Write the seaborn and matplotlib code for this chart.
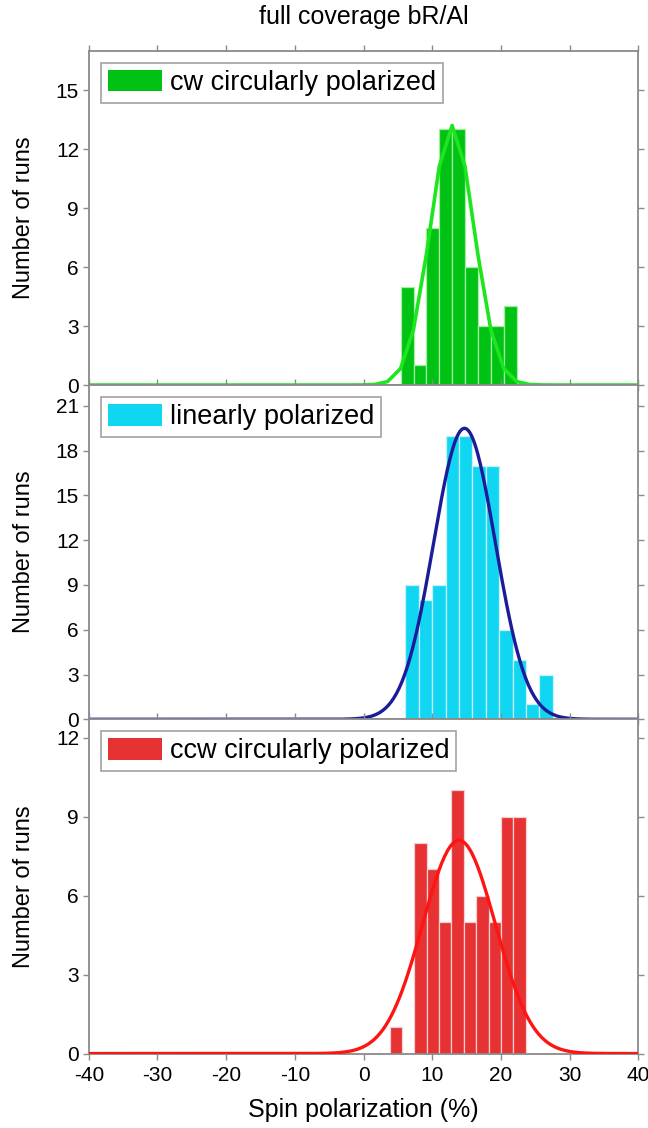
import numpy as np
import pandas as pd
import matplotlib
matplotlib.use("Agg")
import matplotlib.pyplot as plt
from matplotlib.patches import Patch
import seaborn as sns

# ---------------- data ----------------
title = "full coverage bR/Al"
x_label = "Spin polarization (%)"
y_label = "Number of runs"
x_ticks = [-40, -30, -20, -10, 0, 10, 20, 30, 40]

# cw circularly polarized
cw_label = "cw circularly polarized"
cw_bin_start = 5.4
cw_bin_width = 1.88
cw_counts = [5, 1, 8, 13, 13, 6, 3, 3, 4]
cw_fit_mean, cw_fit_sigma, cw_fit_peak = 12.9, 3.2, 13.2
cw_yticks = [0, 3, 6, 9, 12, 15]
cw_ymax = 17.0

# linearly polarized
lin_label = "linearly polarized"
lin_bin_start = 6.1
lin_bin_width = 1.95
lin_counts = [9, 8, 9, 19, 19, 17, 17, 6, 4, 1, 3]
lin_fit_mean, lin_fit_sigma, lin_fit_peak = 14.7, 4.5, 19.5
lin_yticks = [0, 3, 6, 9, 12, 15, 18, 21]
lin_ymax = 22.4

# ccw circularly polarized
ccw_label = "ccw circularly polarized"
ccw_bin_start = 3.8
ccw_bin_width = 1.8
ccw_counts = [1, 0, 8, 7, 5, 10, 5, 6, 5, 9, 9]
ccw_fit_mean, ccw_fit_sigma, ccw_fit_peak = 13.9, 5.3, 8.1
ccw_yticks = [0, 3, 6, 9, 12]
ccw_ymax = 12.7

# ---------------- style ----------------
sns.set_theme(style="white")
plt.rcParams["font.family"] = ["Liberation Sans", "DejaVu Sans"]
plt.rcParams["axes.unicode_minus"] = False
plt.rcParams["text.color"] = "black"
plt.rcParams["axes.labelcolor"] = "black"
plt.rcParams["xtick.labelcolor"] = "black"
plt.rcParams["ytick.labelcolor"] = "black"
grey = "#8a8a8a"

panels = [
    dict(label=cw_label, start=cw_bin_start, width=cw_bin_width, counts=cw_counts,
         fit=(cw_fit_mean, cw_fit_sigma, cw_fit_peak), yticks=cw_yticks, ymax=cw_ymax,
         bar="#00c214", edge="#a0f0a0", line="#1ee61e", fit_step=1.88),
    dict(label=lin_label, start=lin_bin_start, width=lin_bin_width, counts=lin_counts,
         fit=(lin_fit_mean, lin_fit_sigma, lin_fit_peak), yticks=lin_yticks, ymax=lin_ymax,
         bar="#10d6f2", edge="#c8f0f8", line="#1c1c9a", fit_step=0.2),
    dict(label=ccw_label, start=ccw_bin_start, width=ccw_bin_width, counts=ccw_counts,
         fit=(ccw_fit_mean, ccw_fit_sigma, ccw_fit_peak), yticks=ccw_yticks, ymax=ccw_ymax,
         bar="#e63232", edge="#f4d0d0", line="#ff1414", fit_step=0.2),
]

fig, axes = plt.subplots(3, 1, figsize=(6.48, 11.28), dpi=100, sharex=True)
fig.subplots_adjust(left=0.137, right=0.985, top=0.955, bottom=0.066, hspace=0)

for ax, p in zip(axes, panels):
    n = len(p["counts"])
    edges = [float(p["start"] + p["width"] * i) for i in range(n + 1)]
    centers = [(edges[i] + edges[i + 1]) / 2 for i in range(n)]
    df = pd.DataFrame({"x": centers, "w": [float(c) for c in p["counts"]]})
    sns.histplot(data=df, x="x", weights="w", bins=edges, ax=ax,
                 color=p["bar"], alpha=1.0, edgecolor=p["edge"],
                 linewidth=0.9, zorder=2)
    mu, sd, pk = p["fit"]
    step = p["fit_step"]
    xs = np.arange(-40, 40.001, step) + ((mu + 40) % step if step > 1 else 0)
    xs = np.concatenate([[-40], xs[(xs > -40) & (xs < 40)], [40]])
    ys = pk * np.exp(-(xs - mu) ** 2 / (2 * sd ** 2))
    sns.lineplot(x=xs, y=ys, ax=ax, color=p["line"], linewidth=2.6 if step > 1 else 2.4,
                 zorder=3, estimator=None, sort=False)
    ax.set_xlim(-40, 40)
    ax.set_ylim(0, p["ymax"])
    ax.set_yticks(p["yticks"])
    ax.set_xticks(x_ticks)
    ax.set_ylabel(y_label, fontsize=17)
    ax.yaxis.set_label_coords(-0.098, 0.5)
    ax.set_xlabel("")
    for s in ax.spines.values():
        s.set_color(grey)
        s.set_linewidth(1.3)
    ax.tick_params(axis="both", which="major", direction="out", length=4, width=1,
                   color=grey, labelsize=15, labelcolor="black",
                   top=True, right=True, bottom=True, left=True,
                   labeltop=False, labelright=False)
    ax.tick_params(axis="y", pad=3)
    ax.tick_params(axis="x", pad=5)
    leg = ax.legend(handles=[Patch(facecolor=p["bar"], edgecolor="none")], labels=[p["label"]],
                    loc="upper left", bbox_to_anchor=(0.0, 1.0), frameon=True, fancybox=False,
                    fontsize=19.5, handlelength=2.0, handleheight=0.85, borderpad=0.25,
                    handletextpad=0.3, borderaxespad=0.45)
    leg.get_frame().set_edgecolor(grey)
    leg.get_frame().set_linewidth(1.2)

axes[0].tick_params(labelbottom=False)
axes[1].tick_params(labelbottom=False)
axes[0].set_title(title, fontsize=18, pad=19, color="black")
axes[2].set_xlabel(x_label, fontsize=18, labelpad=9)

fig.savefig("out.png", dpi=100)
